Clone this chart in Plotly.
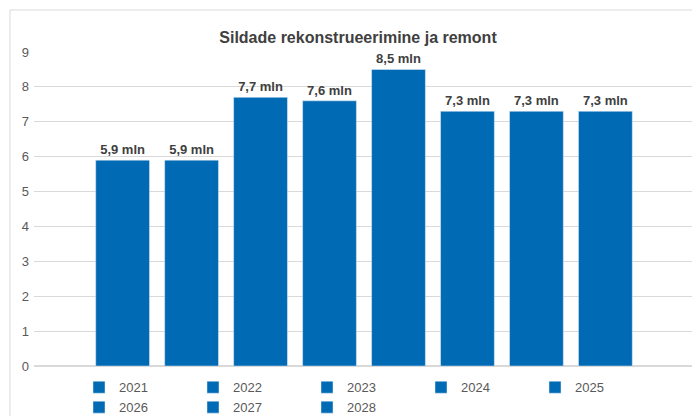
import plotly.graph_objects as go

years = ["2021", "2022", "2023", "2024", "2025", "2026", "2027", "2028"]
values = [5.9, 5.9, 7.7, 7.6, 8.5, 7.3, 7.3, 7.3]
labels = ["5,9 mln", "5,9 mln", "7,7 mln", "7,6 mln", "8,5 mln", "7,3 mln", "7,3 mln", "7,3 mln"]

fig = go.Figure()
for y, v, t in zip(years, values, labels):
    fig.add_trace(go.Bar(x=[""], y=[v], name=y, text=["<b>" + t + "</b>"], textposition="outside",
                         marker=dict(color="#006AB4"), cliponaxis=False,
                         textfont=dict(family="Liberation Sans", size=13, color="#404040")))

fig.update_layout(
    width=700, height=416,
    margin=dict(l=26, r=14, t=44, b=58, autoexpand=False),
    paper_bgcolor="white", plot_bgcolor="white",
    barmode="group", bargap=0.164, bargroupgap=0.22,
    font=dict(family="Liberation Sans", color="#595959", size=13),
    title=dict(text="<b>Sildade rekonstrueerimine ja remont</b>", x=0.5, xanchor="center",
               y=0.93, yanchor="middle", font=dict(size=16, color="#404040")),
    showlegend=True,
    legend=dict(orientation="h", x=0.5, xanchor="center", y=-0.02, yanchor="top",
                font=dict(size=13, color="#595959"), itemwidth=30, entrywidth=69,
                traceorder="normal"),
    xaxis=dict(showticklabels=False, showline=False, showgrid=False),
    yaxis=dict(range=[0, 9], dtick=1, showgrid=True, gridcolor="#D9D9D9", gridwidth=1,
               zeroline=True, zerolinecolor="#D9D9D9", ticklabelstandoff=4, automargin=False,
               tickfont=dict(size=13, color="#595959")),
    shapes=[dict(type="rect", xref="paper", yref="paper",
                 x0=-24/660, x1=1+12/660, y0=-56/314, y1=1+42/314,
                 line=dict(color="#D9D9D9", width=1))],
)
fig.write_html("out.html")
